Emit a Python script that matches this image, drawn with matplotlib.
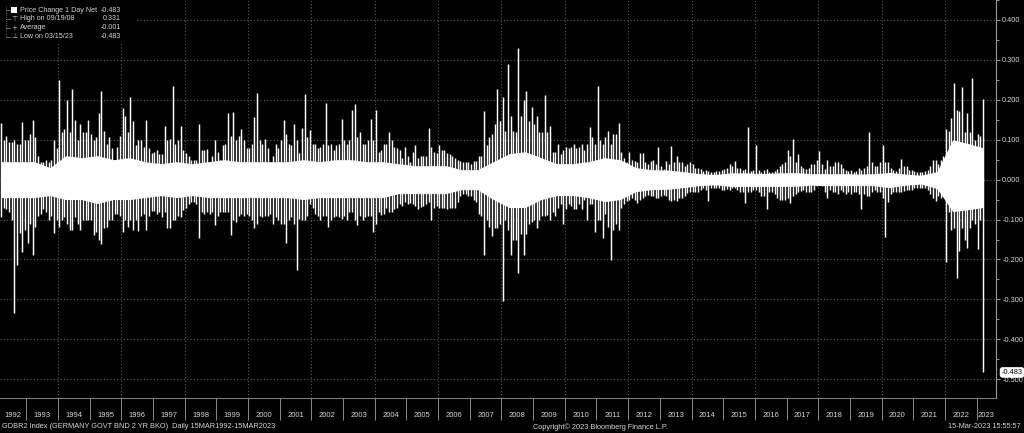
import matplotlib
matplotlib.use("Agg")
import matplotlib.pyplot as plt
import pandas as pd

# monthly extremes of the 1 day net price change (Mar 1992 .. Mar 2023)
spike_hi = [
    0.143, 0.10, 0.11, 0.095, 0.095, 0.10, 0.09, 0.09, 0.145, 0.10,                      # 1992
    0.10, 0.115, 0.15, 0.108, 0.06, 0.045, 0.045, 0.05, 0.045, 0.05, 0.10, 0.08,         # 1993
    0.25, 0.12, 0.127, 0.20, 0.12, 0.226, 0.15, 0.10, 0.14, 0.12, 0.12, 0.15,            # 1994
    0.115, 0.10, 0.108, 0.167, 0.222, 0.123, 0.09, 0.108, 0.08, 0.043, 0.083, 0.11,      # 1995
    0.18, 0.16, 0.12, 0.207, 0.147, 0.087, 0.10, 0.10, 0.083, 0.15, 0.08, 0.067,         # 1996
    0.07, 0.075, 0.065, 0.063, 0.135, 0.10, 0.103, 0.234, 0.09, 0.10, 0.135, 0.075,      # 1997
    0.067, 0.06, 0.05, 0.05, 0.05, 0.139, 0.075, 0.075, 0.076, 0.045, 0.06, 0.10,        # 1998
    0.07, 0.05, 0.087, 0.09, 0.167, 0.11, 0.17, 0.10, 0.11, 0.127, 0.10, 0.08,           # 1999
    0.08, 0.09, 0.157, 0.218, 0.10, 0.09, 0.103, 0.08, 0.043, 0.06, 0.09, 0.08,          # 2000
    0.10, 0.149, 0.115, 0.09, 0.087, 0.14, 0.10, 0.067, 0.13, 0.214, 0.107, 0.125,       # 2001
    0.09, 0.09, 0.08, 0.083, 0.09, 0.193, 0.087, 0.09, 0.075, 0.087, 0.09, 0.153,        # 2002
    0.10, 0.09, 0.10, 0.175, 0.189, 0.107, 0.119, 0.09, 0.09, 0.10, 0.151, 0.10,         # 2003
    0.174, 0.07, 0.075, 0.09, 0.09, 0.119, 0.10, 0.083, 0.08, 0.075, 0.055, 0.083,       # 2004
    0.06, 0.043, 0.07, 0.087, 0.055, 0.06, 0.058, 0.06, 0.129, 0.083, 0.07, 0.067,       # 2005
    0.087, 0.075, 0.075, 0.067, 0.063, 0.06, 0.055, 0.05, 0.047, 0.045, 0.043, 0.045,    # 2006
    0.04, 0.047, 0.047, 0.059, 0.06, 0.171, 0.087, 0.107, 0.115, 0.14, 0.226, 0.147,     # 2007
    0.207, 0.123, 0.29, 0.159, 0.123, 0.12, 0.331, 0.159, 0.199, 0.222, 0.147, 0.183,    # 2008
    0.139, 0.159, 0.119, 0.12, 0.213, 0.12, 0.135, 0.07, 0.07, 0.09, 0.065, 0.075,       # 2009
    0.083, 0.079, 0.083, 0.09, 0.08, 0.083, 0.09, 0.075, 0.09, 0.131, 0.107, 0.09,       # 2010
    0.235, 0.099, 0.09, 0.107, 0.123, 0.09, 0.115, 0.115, 0.141, 0.07, 0.055, 0.043,     # 2011
    0.068, 0.05, 0.047, 0.043, 0.067, 0.067, 0.045, 0.039, 0.047, 0.05, 0.04, 0.083,     # 2012
    0.035, 0.027, 0.047, 0.04, 0.084, 0.043, 0.059, 0.043, 0.043, 0.035, 0.039, 0.043,   # 2013
    0.039, 0.03, 0.03, 0.027, 0.022, 0.025, 0.022, 0.02, 0.018, 0.022, 0.022, 0.025,     # 2014
    0.027, 0.03, 0.039, 0.035, 0.047, 0.03, 0.03, 0.025, 0.027, 0.133, 0.022, 0.025,     # 2015
    0.087, 0.025, 0.018, 0.025, 0.027, 0.02, 0.018, 0.022, 0.027, 0.035, 0.039, 0.043,   # 2016
    0.075, 0.06, 0.103, 0.045, 0.063, 0.035, 0.03, 0.026, 0.03, 0.038, 0.04, 0.05,       # 2017
    0.071, 0.04, 0.026, 0.05, 0.035, 0.035, 0.044, 0.043, 0.039, 0.03, 0.025, 0.022,     # 2018
    0.025, 0.02, 0.022, 0.03, 0.025, 0.03, 0.035, 0.119, 0.043, 0.035, 0.035, 0.045,     # 2019
    0.088, 0.045, 0.045, 0.03, 0.025, 0.022, 0.03, 0.052, 0.035, 0.033, 0.025, 0.025,    # 2020
    0.022, 0.02, 0.018, 0.02, 0.022, 0.025, 0.035, 0.05, 0.05, 0.04, 0.05, 0.06,         # 2021
    0.127, 0.123, 0.155, 0.242, 0.175, 0.171, 0.231, 0.12, 0.167, 0.12, 0.255, 0.10,     # 2022
    0.115, 0.11, 0.203,                                                                  # 2023
]
spike_lo = [
    -0.094, -0.07, -0.074, -0.08, -0.10, -0.335, -0.214, -0.134, -0.182, -0.126,
    -0.158, -0.11, -0.19, -0.118, -0.09, -0.086, -0.074, -0.08, -0.10, -0.09, -0.134, -0.10,
    -0.118, -0.10, -0.094, -0.11, -0.126, -0.126, -0.094, -0.11, -0.126, -0.10, -0.10, -0.10,
    -0.10, -0.138, -0.13, -0.15, -0.162, -0.12, -0.118, -0.10, -0.10, -0.085, -0.086, -0.09,
    -0.13, -0.10, -0.118, -0.10, -0.126, -0.10, -0.128, -0.09, -0.086, -0.126, -0.09, -0.078,
    -0.078, -0.086, -0.08, -0.094, -0.08, -0.12, -0.122, -0.10, -0.10, -0.09, -0.094, -0.075,
    -0.07, -0.06, -0.055, -0.055, -0.06, -0.146, -0.08, -0.086, -0.08, -0.085, -0.08, -0.114,
    -0.09, -0.08, -0.08, -0.082, -0.082, -0.138, -0.10, -0.106, -0.09, -0.086, -0.09, -0.086,
    -0.09, -0.10, -0.122, -0.11, -0.09, -0.094, -0.09, -0.09, -0.086, -0.11, -0.094, -0.10,
    -0.11, -0.11, -0.158, -0.10, -0.094, -0.11, -0.226, -0.098, -0.10, -0.102, -0.09, -0.06,
    -0.07, -0.086, -0.09, -0.102, -0.09, -0.09, -0.118, -0.10, -0.094, -0.09, -0.094, -0.098,
    -0.09, -0.10, -0.08, -0.08, -0.10, -0.114, -0.09, -0.10, -0.094, -0.09, -0.09, -0.13,
    -0.11, -0.08, -0.088, -0.086, -0.07, -0.08, -0.08, -0.074, -0.07, -0.06, -0.065, -0.055,
    -0.06, -0.058, -0.06, -0.065, -0.074, -0.068, -0.065, -0.06, -0.055, -0.10, -0.07, -0.065,
    -0.07, -0.07, -0.072, -0.074, -0.072, -0.07, -0.07, -0.055, -0.04, -0.035, -0.037, -0.04,
    -0.04, -0.05, -0.055, -0.086, -0.09, -0.19, -0.10, -0.118, -0.142, -0.12, -0.12, -0.11,
    -0.303, -0.10, -0.126, -0.19, -0.15, -0.15, -0.235, -0.135, -0.19, -0.135, -0.11, -0.105,
    -0.10, -0.12, -0.10, -0.09, -0.09, -0.088, -0.10, -0.08, -0.09, -0.07, -0.06, -0.11,
    -0.074, -0.06, -0.065, -0.074, -0.074, -0.06, -0.074, -0.05, -0.102, -0.062, -0.06, -0.13,
    -0.10, -0.10, -0.146, -0.086, -0.118, -0.202, -0.126, -0.11, -0.126, -0.07, -0.062, -0.054,
    -0.05, -0.046, -0.05, -0.058, -0.05, -0.046, -0.042, -0.038, -0.04, -0.042, -0.046, -0.045,
    -0.04, -0.038, -0.042, -0.05, -0.054, -0.05, -0.054, -0.045, -0.046, -0.04, -0.034, -0.03,
    -0.03, -0.032, -0.03, -0.025, -0.022, -0.025, -0.054, -0.022, -0.02, -0.022, -0.02, -0.025,
    -0.025, -0.024, -0.025, -0.022, -0.022, -0.025, -0.03, -0.03, -0.058, -0.03, -0.03, -0.026,
    -0.025, -0.03, -0.04, -0.04, -0.074, -0.03, -0.03, -0.035, -0.045, -0.05, -0.05, -0.05,
    -0.045, -0.058, -0.04, -0.035, -0.03, -0.028, -0.025, -0.03, -0.03, -0.03, -0.025, -0.015,
    -0.014, -0.015, -0.03, -0.046, -0.025, -0.03, -0.03, -0.035, -0.025, -0.03, -0.035, -0.03,
    -0.035, -0.03, -0.03, -0.035, -0.074, -0.035, -0.04, -0.04, -0.03, -0.025, -0.03, -0.03,
    -0.045, -0.144, -0.055, -0.035, -0.03, -0.03, -0.03, -0.03, -0.028, -0.025, -0.025, -0.025,
    -0.022, -0.022, -0.02, -0.02, -0.02, -0.025, -0.035, -0.045, -0.054, -0.04, -0.045, -0.04,
    -0.206, -0.08, -0.126, -0.12, -0.247, -0.18, -0.12, -0.15, -0.17, -0.12, -0.10, -0.11,
    -0.174, -0.10, -0.483,
]

# half-year height of the dense white band (H1/H2 from 1992 to 2023 H1)
core_up = [
    0.045, 0.045, 0.045, 0.03, 0.06, 0.055, 0.06, 0.05, 0.055, 0.045, 0.04, 0.045,
    0.04, 0.045, 0.05, 0.045, 0.045, 0.045, 0.045, 0.05, 0.045, 0.05, 0.05, 0.045,
    0.045, 0.04, 0.035, 0.035, 0.035, 0.025, 0.025, 0.045, 0.065, 0.07, 0.055, 0.04,
    0.04, 0.045, 0.055, 0.05, 0.03, 0.025, 0.024, 0.02, 0.015, 0.013, 0.017, 0.017,
    0.015, 0.017, 0.018, 0.015, 0.015, 0.015, 0.014, 0.015, 0.018, 0.014, 0.011, 0.02,
    0.10, 0.09, 0.08,
]
core_dn = [
    0.045, 0.045, 0.045, 0.04, 0.05, 0.05, 0.06, 0.05, 0.05, 0.045, 0.04, 0.045,
    0.04, 0.045, 0.045, 0.045, 0.045, 0.045, 0.045, 0.05, 0.045, 0.045, 0.045, 0.045,
    0.045, 0.035, 0.035, 0.035, 0.035, 0.025, 0.025, 0.05, 0.07, 0.07, 0.05, 0.04,
    0.04, 0.045, 0.055, 0.05, 0.03, 0.025, 0.024, 0.02, 0.015, 0.013, 0.017, 0.017,
    0.017, 0.017, 0.017, 0.014, 0.015, 0.015, 0.015, 0.015, 0.02, 0.014, 0.011, 0.022,
    0.08, 0.075, 0.07,
]

y_ticks = [0.4, 0.3, 0.2, 0.1, 0.0, -0.1, -0.2, -0.3, -0.4, -0.5]
years = list(range(1992, 2024))
last_value = -0.483
legend_rows = [
    ("Price Change 1 Day Net", "-0.483"),
    ("High on 09/19/08", "0.331"),
    ("Average", "-0.001"),
    ("Low on 03/15/23", "-0.483"),
]
legend_marks = ["", "\u22a4", "+", "\u22a5"]

plt.rcParams["font.family"] = ["Liberation Sans", "DejaVu Sans"]
plt.rcParams["axes.unicode_minus"] = False
TXT = "#d6d6d6"
GRID = "#5c5c5c"

months = pd.date_range("1992-03-01", periods=len(spike_hi), freq="MS") + pd.Timedelta(days=14)
core_x = list(pd.date_range("1992-04-01", periods=len(core_up), freq="6MS"))
core_x[0], core_x[-1] = months[0], months[-1]

fig = plt.figure(figsize=(10.24, 4.33), dpi=100, facecolor="black")
ax = fig.add_axes([0, 35 / 433, 996 / 1024, 398 / 433])
ax.set_facecolor("black")

x_left = pd.Timestamp("1992-03-03")
x_right = pd.Timestamp("2023-08-13")
ax.set_xlim(x_left, x_right)
ax.set_ylim(-0.547, 0.412)

# ---------- grid ----------
for v in y_ticks:
    ax.axhline(v, color=GRID, lw=0.8, ls=(0, (1, 2)), zorder=0)
for yr in years:
    if yr % 2 == 0 and yr > 1992:
        ax.axvline(pd.Timestamp(f"{yr}-01-01"), color=GRID, lw=0.8, ls=(0, (1, 2)), zorder=0)

# ---------- data ----------
ax.fill_between(core_x, [-v for v in core_dn], core_up, color="white", lw=0, zorder=2)
ax.vlines(months, spike_lo, spike_hi, color="white", lw=1.05, zorder=3)

# ---------- axes ----------
for s in ("top", "left"):
    ax.spines[s].set_visible(False)
ax.spines["right"].set_color("#9a9a9a")
ax.spines["bottom"].set_color("#7a7a7a")
ax.spines["right"].set_linewidth(0.8)
ax.spines["bottom"].set_linewidth(0.8)

ax.yaxis.tick_right()
ax.set_yticks(y_ticks)
ax.set_yticklabels([f"{v:.3f}" if v != 0 else "0.000" for v in y_ticks])
ax.set_yticks([v + 0.05 for v in y_ticks], minor=True)
ax.tick_params(axis="y", which="both", colors="#9a9a9a", labelcolor=TXT, labelsize=5.3,
               direction="out", pad=1.5)
ax.tick_params(axis="y", which="major", length=3, width=0.7)
ax.tick_params(axis="y", which="minor", length=2, width=0.7)

ax.set_xticks([pd.Timestamp(f"{yr}-01-01") for yr in years[1:]])
ax.set_xticklabels([])
ax.tick_params(axis="x", which="major", colors="#8a8a8a", length=16, width=0.7, direction="out")

for yr in years:
    a = max(pd.Timestamp(f"{yr}-01-01"), x_left)
    b = min(pd.Timestamp(f"{yr + 1}-01-01"), x_right)
    ax.text(a + (b - a) / 2, -0.045, str(yr), transform=ax.get_xaxis_transform(),
            ha="center", va="center", color=TXT, fontsize=5.5, clip_on=False)

# last value tag on the right axis
ax.annotate(f"{last_value:.3f}", xy=(1.0, last_value), xycoords=("axes fraction", "data"),
            xytext=(4, 0), textcoords="offset points", ha="left", va="center",
            fontsize=5.3, color="black", zorder=10, annotation_clip=False,
            bbox=dict(boxstyle="round,pad=0.15,rounding_size=0.3", fc="white", ec="white"))

# ---------- legend ----------
W, H = 1024, 433
fig.patches.append(plt.Rectangle((0, 1 - 44 / H), 136 / W, 44 / H, transform=fig.transFigure,
                                 fc="black", ec="none", zorder=5))
fig.add_artist(plt.Line2D([6 / W, 6 / W], [1 - 6 / H, 1 - 37 / H], color="#777777",
                          lw=0.6, ls=(0, (1, 1.5)), transform=fig.transFigure, zorder=6))
row_y = [10, 18.5, 27.5, 36.5]
for (label, val), mark, ry in zip(legend_rows, legend_marks, row_y):
    fy = 1 - ry / H
    fig.add_artist(plt.Line2D([6 / W, 10 / W], [fy, fy], color="#777777", lw=0.6,
                              transform=fig.transFigure, zorder=6))
    if mark:
        fig.text(14 / W, fy, mark, color="#bbbbbb", fontsize=5, ha="center", va="center",
                 family=["DejaVu Sans"], zorder=7)
    else:
        fig.patches.append(plt.Rectangle((11 / W, fy - 3 / H), 6 / W, 6 / H,
                                         transform=fig.transFigure, fc="white", ec="none",
                                         zorder=6))
    fig.text(20 / W, fy, label, color=TXT, fontsize=5.1, ha="left", va="center", zorder=7)
    fig.text(121 / W, fy, val, color=TXT, fontsize=5.1, ha="right", va="center", zorder=7)

# ---------- footer ----------
fig.text(2 / W, 6 / H, "GDBR2 Index (GERMANY GOVT BND 2 YR BKO)  Daily 15MAR1992-15MAR2023",
         color=TXT, fontsize=5.3, ha="left", va="center")
fig.text(533 / W, 6 / H, "Copyright\u00a9 2023 Bloomberg Finance L.P.", color=TXT,
         fontsize=5.3, ha="left", va="center")
fig.text(1021 / W, 6 / H, "15-Mar-2023 15:55:57", color=TXT, fontsize=5.3,
         ha="right", va="center")

fig.savefig("out.png", dpi=100, facecolor="black")
